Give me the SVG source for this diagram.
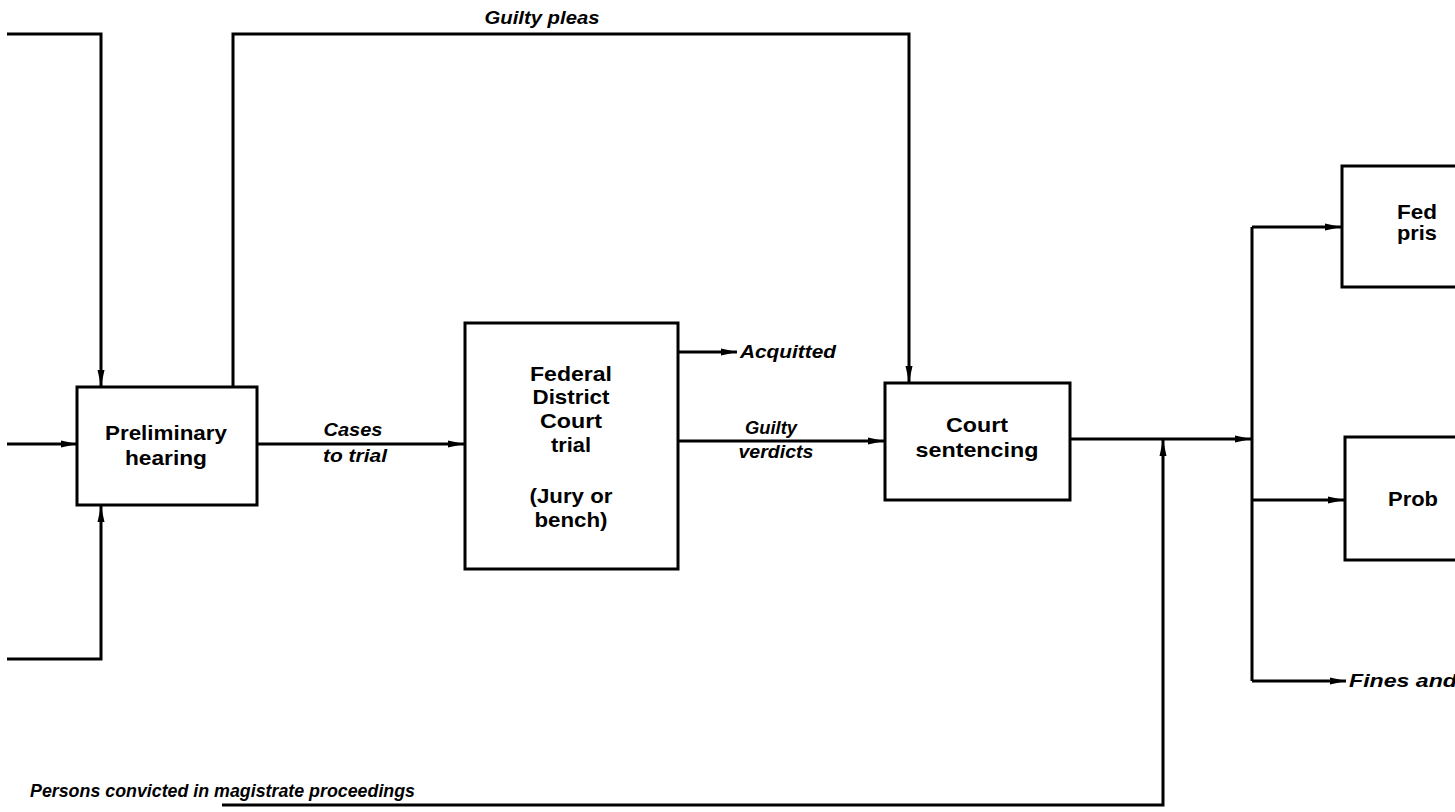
<svg xmlns="http://www.w3.org/2000/svg" width="1455" height="812" viewBox="0 0 1455 812">
<defs>
<marker id="arr" viewBox="0 0 16 10" refX="16" refY="5" markerWidth="16" markerHeight="10" markerUnits="userSpaceOnUse" orient="auto">
<path d="M0,1.5 L16,5 L0,8.5 Z" fill="#000"/>
</marker>
</defs>
<style>
.bg{fill:#fff}
.box{fill:#fff;stroke:#000;stroke-width:3}
.ln{fill:none;stroke:#000;stroke-width:3;stroke-linejoin:miter}
.ar{marker-end:url(#arr)}
.nt{font-family:"Liberation Sans",Arial,sans-serif;font-weight:bold;font-size:21px;fill:#000;text-anchor:middle}
.lb{font-family:"Liberation Sans",Arial,sans-serif;font-weight:bold;font-style:italic;font-size:18px;fill:#000}
.c{text-anchor:middle}
.st{text-anchor:start}
</style>
<rect class="bg" x="0" y="0" width="1455" height="812"/>

<g id="connectors">
<path class="ln ar" d="M7,34 H101 V386"/>
<path class="ln ar" d="M7,444 H77"/>
<path class="ln ar" d="M7,659 H101 V506"/>
<path class="ln ar" d="M233,387 V34 H909 V382"/>
<path class="ln ar" d="M257,444 H464"/>
<path class="ln ar" d="M678,352 H737"/>
<path class="ln ar" d="M678,441 H884"/>
<path class="ln ar" d="M1070,439 H1251"/>
<path class="ln ar" d="M222,805 H1163 V440"/>
<path class="ln" d="M1252,227 V681"/>
<path class="ln ar" d="M1252,227 H1341"/>
<path class="ln ar" d="M1252,500 H1344"/>
<path class="ln ar" d="M1252,681 H1346"/>
</g>

<g id="labels">
<text class="lb c" x="542" y="24" textLength="115" lengthAdjust="spacingAndGlyphs">Guilty pleas</text>
<text class="lb c" x="353" y="436" textLength="59" lengthAdjust="spacingAndGlyphs">Cases</text>
<text class="lb c" x="355" y="462" textLength="64" lengthAdjust="spacingAndGlyphs">to trial</text>
<text class="lb" x="740" y="358" textLength="96" lengthAdjust="spacingAndGlyphs">Acquitted</text>
<text class="lb c" x="771" y="434" textLength="52" lengthAdjust="spacingAndGlyphs">Guilty</text>
<text class="lb c" x="776" y="458" textLength="75" lengthAdjust="spacingAndGlyphs">verdicts</text>
<text class="lb" x="30" y="797" textLength="385" lengthAdjust="spacingAndGlyphs">Persons convicted in magistrate proceedings</text>
<text class="lb" x="1349" y="687" textLength="108" lengthAdjust="spacingAndGlyphs">Fines and</text>
</g>

<g id="preliminary-hearing">
<rect class="box" x="77" y="387" width="180" height="118"/>
<text class="nt" x="166" y="440" textLength="122" lengthAdjust="spacingAndGlyphs">Preliminary</text>
<text class="nt" x="166" y="465" textLength="82" lengthAdjust="spacingAndGlyphs">hearing</text>
</g>

<g id="district-court-trial">
<rect class="box" x="465" y="323" width="213" height="246"/>
<text class="nt" x="571" y="381" textLength="82" lengthAdjust="spacingAndGlyphs">Federal</text>
<text class="nt" x="571" y="404" textLength="77" lengthAdjust="spacingAndGlyphs">District</text>
<text class="nt" x="571" y="428" textLength="62" lengthAdjust="spacingAndGlyphs">Court</text>
<text class="nt" x="571" y="452" textLength="40" lengthAdjust="spacingAndGlyphs">trial</text>
<text class="nt" x="571" y="503" textLength="83" lengthAdjust="spacingAndGlyphs">(Jury or</text>
<text class="nt" x="571" y="527" textLength="73" lengthAdjust="spacingAndGlyphs">bench)</text>
</g>

<g id="court-sentencing">
<rect class="box" x="885" y="383" width="185" height="117"/>
<text class="nt" x="977" y="432" textLength="62" lengthAdjust="spacingAndGlyphs">Court</text>
<text class="nt" x="977" y="457" textLength="123" lengthAdjust="spacingAndGlyphs">sentencing</text>
</g>

<g id="federal-prison">
<rect class="box" x="1342" y="166" width="130" height="121"/>
<text class="nt st" x="1397" y="219" textLength="40" lengthAdjust="spacingAndGlyphs">Fed</text>
<text class="nt st" x="1397" y="240" textLength="40" lengthAdjust="spacingAndGlyphs">pris</text>
</g>

<g id="probation">
<rect class="box" x="1345" y="437" width="130" height="123"/>
<text class="nt st" x="1388" y="506" textLength="50" lengthAdjust="spacingAndGlyphs">Prob</text>
</g>
</svg>
